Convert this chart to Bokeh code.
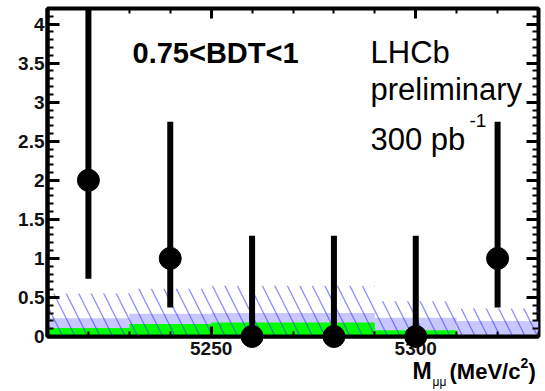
from bokeh.plotting import figure
from bokeh.models import (Range1d, SingleIntervalTicker, LinearAxis, Label,
                          CustomJSTickFormatter)
from bokeh.core.properties import value
from bokeh.embed import file_html
from bokeh.resources import INLINE

# ---- data ----
bin_lo = [5210, 5230, 5250, 5270, 5290, 5310]
bin_hi = [5230, 5250, 5270, 5290, 5310, 5330]
bin_centers = [5220, 5240, 5260, 5280, 5300, 5320]
observed = [2, 1, 0, 0, 0, 1]
err_low = [0.74, 0.37, 0.0, 0.0, 0.0, 0.37]
err_high = [4.25, 2.75, 1.29, 1.29, 1.29, 2.75]
green_exp = [0.11, 0.16, 0.18, 0.18, 0.08, 0.0]
blue_exp = [0.235, 0.29, 0.30, 0.30, 0.24, 0.20]
band_high = [0.55, 0.61, 0.65, 0.65, 0.45, 0.36]

X0, X1 = 5210, 5330
Y0, Y1 = 0, 4.2
W, H = 545, 391
ML, MR, MT, MB = 47, 7, 8, 55

p = figure(width=W, height=H, x_range=Range1d(X0, X1), y_range=Range1d(Y0, Y1),
           output_backend="svg", toolbar_location=None,
           min_border_left=ML, min_border_right=MR, min_border_top=MT,
           min_border_bottom=MB)
p.background_fill_color = "white"
p.border_fill_color = "white"
p.grid.visible = False
p.outline_line_color = "black"
p.outline_line_width = 4

FONT = "Liberation Sans"

def style_axis(ax, major_in, minor_in, labels=True):
    ax.axis_line_color = "black"
    ax.axis_line_width = 4
    ax.major_tick_in = major_in
    ax.major_tick_out = 0
    ax.minor_tick_in = minor_in
    ax.minor_tick_out = 0
    ax.major_tick_line_width = 3
    ax.minor_tick_line_width = 2
    ax.major_tick_line_color = "black"
    ax.minor_tick_line_color = "black"
    ax.major_label_text_font = FONT
    ax.major_label_text_font_style = "bold"
    ax.major_label_text_font_size = "19px"
    ax.major_label_text_color = "#111111"
    if not labels:
        ax.formatter = CustomJSTickFormatter(code="return ''")
        ax.major_label_standoff = 0
        ax.axis_line_color = None

xt = SingleIntervalTicker(interval=50, num_minor_ticks=5)
yt = SingleIntervalTicker(interval=0.5, num_minor_ticks=5)

p.xaxis.ticker = xt
p.yaxis.ticker = yt
p.xaxis.formatter = CustomJSTickFormatter(code="return String(tick)")
p.yaxis.formatter = CustomJSTickFormatter(code="return String(tick)")
style_axis(p.xaxis[0], 10, 5)
style_axis(p.yaxis[0], 12, 6)
p.xaxis.major_label_standoff = 5
p.yaxis.major_label_standoff = 3

ax_top = LinearAxis(ticker=xt)
style_axis(ax_top, 10, 5, labels=False)
p.add_layout(ax_top, "above")
ax_right = LinearAxis(ticker=yt)
style_axis(ax_right, 12, 6, labels=False)
p.add_layout(ax_right, "right")

# ---- expectation bands ----
p.quad(left=bin_lo, right=bin_hi, bottom=0, top=blue_exp,
       fill_color="#c8c8ff", line_color=None)
p.quad(left=bin_lo, right=bin_hi, bottom=0, top=green_exp,
       fill_color="#00ff00", line_color=None)
p.quad(left=bin_lo, right=bin_hi, bottom=0, top=band_high,
       fill_alpha=0, line_color=None, hatch_pattern="\\",
       hatch_color="#3030ff", hatch_alpha=0.55, hatch_scale=25, hatch_weight=1.3)

# ---- data points ----
p.segment(x0=bin_centers, y0=err_low, x1=bin_centers, y1=err_high,
          line_width=6, line_color="black")
p.scatter(bin_centers, observed, size=22, color="black", level="overlay")

# ---- texts ----
def dx(px):
    return X0 + (px - ML) * (X1 - X0) / (W - ML - MR)

def dy(py):
    return Y0 + (H - MB - py) * (Y1 - Y0) / (H - MB - MT)

def lab(px, base_py, text, size_px, bold=False):
    py = base_py - 0.35 * size_px
    p.add_layout(Label(x=dx(px), y=dy(py), text=text, text_font=FONT,
                       text_font_size=f"{size_px}px",
                       text_font_style="bold" if bold else "normal",
                       text_color="black", text_baseline="middle",
                       text_align="left"))

def gtext(px, base_py, text, size_px, bold=False):
    # drawn as an unclipped overlay glyph (outside the frame)
    py = base_py - 0.35 * size_px
    p.text(x=[dx(px)], y=[dy(py)], text=[text], text_font=value(FONT),
           text_font_size=f"{size_px}px",
           text_font_style="bold" if bold else "normal",
           text_color="black", text_baseline="middle", text_align="left",
           level="overlay")

lab(132, 63, "0.75<BDT<1", 29, bold=True)
lab(370, 63, "LHCb", 31)
lab(370, 100, "preliminary", 31)
lab(370, 150, "300 pb", 31)
lab(469, 127, "-1", 19)

gtext(412, 379, "M", 23, bold=True)
gtext(432, 386, "μμ", 12)
gtext(449, 379, "(MeV/c", 22, bold=True)
gtext(520, 367, "2", 14, bold=True)
gtext(528, 379, ")", 22, bold=True)

open("out.html", "w").write(file_html(p, INLINE))
